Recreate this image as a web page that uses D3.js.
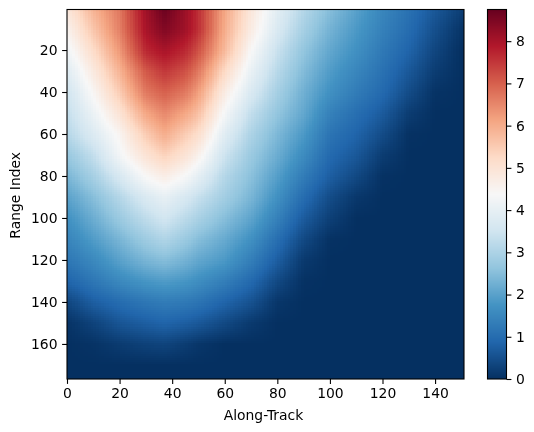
<!DOCTYPE html>
<html>
<head>
<meta charset="utf-8">
<script src="https://cdn.jsdelivr.net/npm/d3@7"></script>
<style>
html,body{margin:0;padding:0;background:#fff;}
#wrap{position:relative;width:534px;height:432px;overflow:hidden;}
canvas,svg{position:absolute;left:0;top:0;}
text{font-family:"DejaVu Sans",sans-serif;fill:#000;}
</style>
</head>
<body>
<div id="wrap"></div>
<script>
const alongTrack = [0,10,20,30,37,45,50,60,70,80,90,100,110,120,130,140,150];
const rangeIndex = [0,10,20,30,40,50,60,70,80,90,100,110,120,130,140,150,160,170,177];
const r000 = [4.9,5.9,6.7,8.1,8.7,8.15,7.6,6.1,4.9,3.9,3.1,2.5,2.0,1.5,1.1,.65,.25];
const r010 = [4.55,5.6,6.6,8.0,8.45,8.1,7.6,6.0,4.75,3.7,2.9,2.3,1.85,1.4,1.0,.5,.08];
const r020 = [4.2,5.2,6.3,7.7,8.0,7.7,7.2,5.8,4.4,3.4,2.65,2.1,1.7,1.25,.85,.35,0];
const r030 = [3.8,4.8,5.9,7.1,7.5,7.2,6.7,5.25,4.05,3.15,2.45,1.9,1.5,1.1,.65,.2,0];
const r040 = [3.5,4.45,5.5,6.7,7.0,6.7,6.2,4.75,3.7,2.9,2.25,1.7,1.3,.95,.45,.05,0];
const r050 = [3.3,4.1,5.0,6.1,6.5,6.1,5.7,4.3,3.3,2.65,2.1,1.4,1.05,.7,.2,0,0];
const r060 = [3.1,3.75,4.5,5.5,6.0,5.5,5.15,3.85,3.0,2.4,1.85,1.15,.85,.45,.03,0,0];
const r070 = [2.7,3.3,4.25,5.0,5.4,5.0,4.6,3.45,2.75,2.2,1.6,.95,.65,.2,0,0,0];
const r080 = [2.35,2.9,3.65,4.4,4.7,4.35,3.95,3.1,2.55,1.95,1.3,.75,.4,.03,0,0,0];
const r090 = [2.0,2.5,3.1,3.7,4.0,3.65,3.35,2.85,2.35,1.7,1.0,.45,.12,0,0,0,0];
const r100 = [1.7,2.2,2.75,3.25,3.55,3.2,2.95,2.5,2.05,1.4,.7,.25,0,0,0,0,0];
const r110 = [1.45,1.9,2.35,2.8,3.05,2.75,2.5,2.15,1.7,1.05,.4,.03,0,0,0,0,0];
const r120 = [1.2,1.55,2.0,2.35,2.5,2.3,2.1,1.85,1.35,.75,.15,0,0,0,0,0,0];
const r130 = [.85,1.2,1.55,1.8,1.9,1.8,1.65,1.35,.95,.4,.03,0,0,0,0,0,0];
const r140 = [.35,.75,1.0,1.2,1.3,1.25,1.15,.85,.55,.1,0,0,0,0,0,0,0];
const r150 = [.05,.3,.6,.75,.85,.75,.65,.4,.15,0,0,0,0,0,0,0,0];
const r160 = [0,.05,.18,.28,.32,.2,.1,0,0,0,0,0,0,0,0,0,0];
const r170 = [0,0,0,0,0,0,0,0,0,0,0,0,0,0,0,0,0];
const r177 = [0,0,0,0,0,0,0,0,0,0,0,0,0,0,0,0,0];
const grid = [r000,r010,r020,r030,r040,r050,r060,r070,r080,r090,r100,r110,r120,r130,r140,r150,r160,r170,r177];
const xTicks = [0,20,40,60,80,100,120,140];
const yTicks = [20,40,60,80,100,120,140,160];
const cTicks = [0,1,2,3,4,5,6,7,8];
const vMax = 8.75;
const rdbu = ["#053061","#2166ac","#4393c3","#92c5de","#d1e5f0","#f7f7f7","#fddbc7","#f4a582","#d6604d","#b2182b","#67001f"];

const W=534,H=432;
const L=67,R=464,T=9.5,B=379;
const CL=487.5,CR=506.5;
const x=d3.scaleLinear().domain([0,151]).range([L,R]);
const y=d3.scaleLinear().domain([0.7,176.7]).range([T,B]);
const cy=d3.scaleLinear().domain([0,vMax]).range([B,T]);
const color=d3.scaleLinear().domain(rdbu.map((_,i)=>i/10*vMax)).range(rdbu).clamp(true);

const wrap=d3.select("#wrap");
const canvas=wrap.append("canvas").attr("width",W).attr("height",H);
const ctx=canvas.node().getContext("2d");

const bi=(arr,v)=>{const i=Math.max(0,Math.min(arr.length-2,d3.bisectRight(arr,v)-1));
  return [i,Math.max(0,Math.min(1,(v-arr[i])/(arr[i+1]-arr[i])))];};
function field(a,r){
  const [i,u]=bi(alongTrack,a),[j,w]=bi(rangeIndex,r);
  return grid[j][i]*(1-u)*(1-w)+grid[j][i+1]*u*(1-w)+grid[j+1][i]*(1-u)*w+grid[j+1][i+1]*u*w;
}
const cols=d3.range(0,151), rows=d3.range(1,177);
rows.forEach(r=>cols.forEach(a=>{
  const x0=Math.round(x(a)),x1=Math.round(x(a+1));
  const y0=Math.round(y(r-0.3)),y1=Math.round(y(r+0.7));
  ctx.fillStyle=color(field(a+0.5,r));
  ctx.fillRect(x0,y0,x1-x0,Math.min(y1,B)-y0);
}));
// colour bar
d3.range(Math.floor(T),Math.ceil(B)).forEach(py=>{
  ctx.fillStyle=color(cy.invert(py+0.5));
  ctx.fillRect(CL,py,CR-CL,1);
});

const svg=wrap.append("svg").attr("width",W).attr("height",H);
const fs=13.9, tl=4.9, sw=1.1;
function style(g){
  g.selectAll("text").style("font-size",fs+"px").style("font-family",'"DejaVu Sans",sans-serif').attr("fill","#000");
  g.selectAll("line").attr("stroke","#000").attr("stroke-width",sw);
  g.select(".domain").remove();
}
svg.append("g").attr("transform",`translate(0,${B})`)
  .call(d3.axisBottom(x).tickValues(xTicks).tickSize(tl).tickPadding(4.6)).call(style);
svg.append("g").attr("transform",`translate(${L},0)`)
  .call(d3.axisLeft(y).tickValues(yTicks).tickSize(tl).tickPadding(4.6)).call(style);
svg.append("g").attr("transform",`translate(${CR},0)`)
  .call(d3.axisRight(cy).tickValues(cTicks).tickSize(tl).tickPadding(4.6)).call(style);
svg.append("rect").attr("x",L).attr("y",T).attr("width",R-L).attr("height",B-T)
  .attr("fill","none").attr("stroke","#000").attr("stroke-width",sw);
svg.append("rect").attr("x",CL).attr("y",T).attr("width",CR-CL).attr("height",B-T)
  .attr("fill","none").attr("stroke","#000").attr("stroke-width",sw);
svg.append("text").attr("x",263.5).attr("y",420).attr("text-anchor","middle").style("font-size",fs+"px").text("Along-Track");
svg.append("text").attr("transform",`translate(20,195.3) rotate(-90)`).attr("text-anchor","middle").style("font-size",fs+"px").text("Range Index");
</script>
</body>
</html>
